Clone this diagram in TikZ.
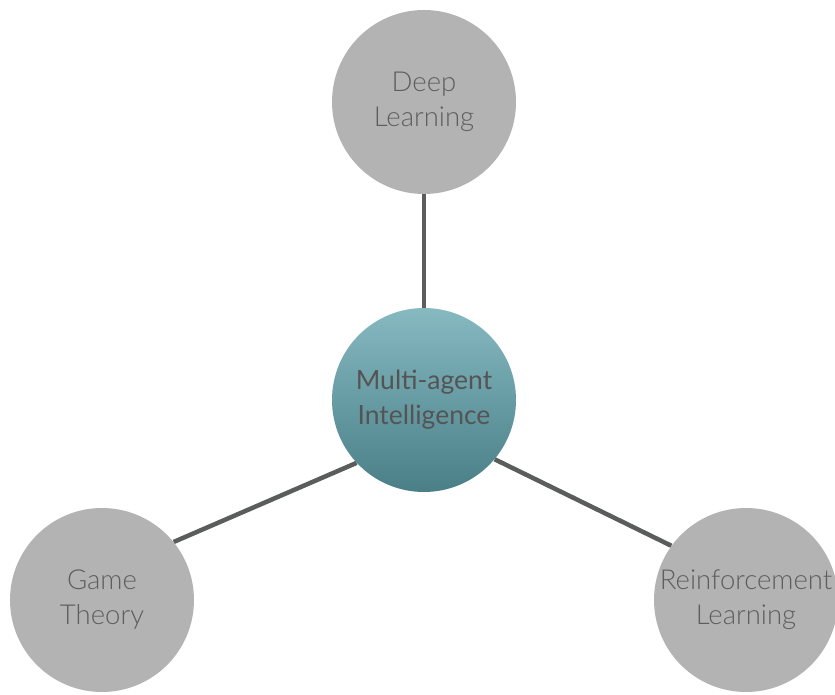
\documentclass[tikz,border=0pt]{standalone}
\usepackage{fontspec}
\setmainfont{Lato}[UprightFont=* Light, BoldFont=* Regular]
\usetikzlibrary{backgrounds}
\begin{document}
\begin{tikzpicture}[x=1pt,y=1pt,
  outer/.style={circle, fill=grey, minimum size=184pt, inner sep=0pt, align=center,
     font=\fontsize{27.5}{35}\selectfont, text=txt},
  hub/.style={circle, top color=tealtop, bottom color=tealbot, minimum size=184pt, inner sep=0pt,
     align=center, font=\bfseries\fontsize{26.5}{35}\selectfont, text=hubtxt},
  link/.style={line width=4.5pt, draw=linkc}]
\definecolor{grey}{HTML}{B3B3B3}
\definecolor{txt}{HTML}{5E5E5E}
\definecolor{hubtxt}{HTML}{545454}
\definecolor{linkc}{HTML}{5A5D5C}
\definecolor{tealtop}{HTML}{86B9C0}
\definecolor{tealbot}{HTML}{4A7F88}
\useasboundingbox (0,0) rectangle (835,695);
\node[outer] (dl) at (424,593) {Deep\\Learning};
\node[outer] (gt) at (102,95) {Game\\Theory};
\node[outer] (rl) at (746,95) {Reinforcement\\Learning};
\node[hub] (mi) at (424,295) {Multi-agent\\Intelligence};
\begin{pgfonlayer}{background}
\draw[link] (mi.north) -- (dl.south);
\draw[link] (mi.223) -- (gt.39.8);
\draw[link] (mi.-40.8) -- (rl.144.7);
\end{pgfonlayer}
\end{tikzpicture}
\end{document}
